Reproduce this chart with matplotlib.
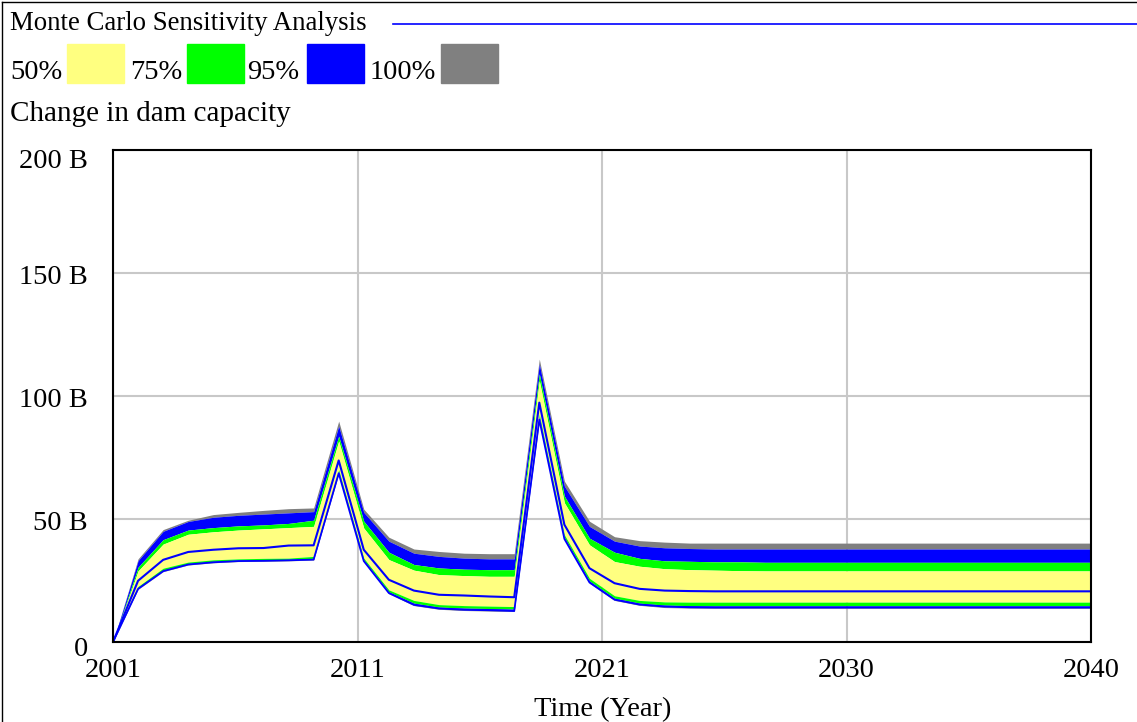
import matplotlib
matplotlib.use("Agg")
import matplotlib.pyplot as plt
import numpy as np

years = list(range(2001, 2041))

# Band boundaries (billions)
g_hi = [0, 33.8, 45.7, 49.5, 51.8, 52.7, 53.5, 54.2, 54.5, 89.8, 54.0, 42.6, 37.8, 36.8, 36.1, 35.9, 35.9,
        115.0, 65.4, 49.1, 42.8, 41.2, 40.6, 40.2] + [40.2] * 16
b_hi = [0, 33.1, 45.0, 49.0, 50.7, 51.5, 52.0, 52.5, 53.0, 87.8, 52.7, 41.0, 36.1, 34.8, 34.1, 33.8, 33.8,
        113.0, 63.4, 47.0, 41.0, 39.0, 38.3, 38.0] + [37.8] * 16
gr_hi = [0, 30.4, 41.6, 45.5, 46.5, 47.2, 47.6, 48.2, 49.5, 83.7, 49.1, 36.5, 31.5, 30.1, 29.6, 29.4, 29.4,
         109.0, 59.3, 42.2, 36.5, 34.0, 33.0, 32.8, 32.6, 32.6, 32.4] + [32.4] * 13
y_hi = [0, 28.9, 39.8, 43.8, 44.8, 45.5, 46.0, 46.5, 47.0, 81.7, 46.3, 33.5, 29.2, 27.4, 27.0, 26.7, 26.7,
        106.2, 56.6, 39.5, 32.7, 30.8, 29.8, 29.4, 29.2, 29.0] + [28.9] * 14
base = [0, 24.9, 33.4, 36.6, 37.5, 38.1, 38.2, 39.2, 39.3, 73.8, 37.5, 25.3, 20.9, 19.2, 18.9, 18.5, 18.2,
        97.3, 47.7, 30.0, 23.9, 21.6, 20.9, 20.7] + [20.6] * 16
y_lo = [0, 22.6, 30.0, 32.5, 33.4, 33.8, 34.0, 34.1, 34.8, 70.1, 34.1, 21.2, 16.9, 15.2, 14.8, 14.6, 14.4,
        92.6, 43.6, 25.9, 18.8, 16.9, 16.3] + [16.2] * 17
gr_lo = [0, 22.0, 29.3, 31.9, 32.8, 33.3, 33.4, 33.6, 34.0, 69.3, 33.4, 20.4, 15.8, 14.2, 13.8, 13.6, 13.4,
         91.4, 42.6, 24.8, 17.8, 15.8, 15.0, 14.8] + [14.7] * 16
b_lo = [0, 21.6, 28.8, 31.5, 32.4, 32.9, 33.0, 33.2, 33.5, 68.6, 32.9, 19.9, 15.1, 13.6, 13.1, 12.9, 12.6,
        90.4, 41.9, 24.2, 17.2, 15.2, 14.4, 14.1] + [14.0] * 16
g_lo = [0, 21.4, 28.6, 31.3, 32.2, 32.7, 32.8, 33.0, 33.3, 68.2, 32.6, 19.6, 14.8, 13.3, 12.8, 12.6, 12.4,
        89.8, 41.6, 23.9, 16.9, 14.9, 14.0, 13.8] + [13.7] * 16

x_ticks = [2001, 2010.75, 2020.5, 2030.25, 2040]
x_labels = ["2001", "2011", "2021", "2030", "2040"]
y_ticks = [0, 50, 100, 150, 200]
y_labels = ["0", "50 B", "100 B", "150 B", "200 B"]
legend_labels = ["50%", "75%", "95%", "100%"]

YELLOW = "#FFFF80"
GREEN = "#00FF00"
BLUE = "#0000FF"
GRAY = "#808080"
band_colors = [YELLOW, GREEN, BLUE, GRAY]

plt.rcParams['font.family'] = ['Liberation Serif', 'DejaVu Serif']
FS = 20.5

W, H = 1137, 722
PT = 0.72  # points per pixel at 100 dpi
fig = plt.figure(figsize=(W / 100, H / 100), dpi=100)
ax = fig.add_axes([113 / W, 80 / H, (1091 - 113) / W, (642 - 150) / H])

x = np.array(years)
ax.fill_between(x, b_hi, g_hi, color=GRAY, lw=0, zorder=2)
ax.fill_between(x, gr_hi, b_hi, color=BLUE, lw=0, zorder=2)
ax.fill_between(x, y_hi, gr_hi, color=GREEN, lw=0, zorder=2)
ax.fill_between(x, y_lo, y_hi, color=YELLOW, lw=0, zorder=2)
ax.fill_between(x, gr_lo, y_lo, color=GREEN, lw=0, zorder=2)
ax.fill_between(x, b_lo, gr_lo, color=BLUE, lw=0, zorder=2)
ax.fill_between(x, g_lo, b_lo, color=GRAY, lw=0, zorder=2)
ax.plot(x, base, color=BLUE, lw=1.5, zorder=3)
ax.plot(x, b_lo, color=BLUE, lw=1.3, zorder=3)

ax.set_xlim(2001, 2040)
ax.set_ylim(0, 200)
ax.set_xticks(x_ticks)
ax.set_yticks(y_ticks)
ax.set_xticklabels([])
ax.set_yticklabels([])
ax.tick_params(length=0)
ax.grid(True, color="#C8C8C8", lw=1.5, zorder=1)
ax.set_axisbelow(True)
for s in ax.spines.values():
    s.set_linewidth(1.5)
    s.set_zorder(4)

# Tick labels placed like the reference (pixel offsets)
for xt, lab in zip(x_ticks, x_labels):
    ax.annotate(lab, xy=(xt, 0), xycoords=("data", "data"), xytext=(0, -35 * PT),
                textcoords="offset points", ha="center", va="baseline", fontsize=FS,
                annotation_clip=False)
y_offsets = [-14, -11, -11, -11, -18]
for yt, lab, off in zip(y_ticks, y_labels, y_offsets):
    ax.annotate(lab, xy=(0, yt), xycoords=("axes fraction", "data"), xytext=(-25 * PT, off * PT),
                textcoords="offset points", ha="right", va="baseline", fontsize=FS,
                annotation_clip=False)
fig.text(603 / W, 1 - 716 / H, "Time (Year)", fontsize=FS, ha="center", va="baseline")

# Header texts
fig.text(10 / W, 1 - 30 / H, "Monte Carlo Sensitivity Analysis", fontsize=19.3, va="baseline", ha="left")
fig.add_artist(plt.Line2D([393 / W, 1], [1 - 24 / H, 1 - 24 / H], color=BLUE, lw=1.2))
label_x = [10, 130, 247, 370]
box_x = [67, 187, 307, 441]
for lx, bx, lab, c in zip(label_x, box_x, legend_labels, band_colors):
    fig.text(lx / W, 1 - 79 / H, lab, fontsize=FS, va="baseline", ha="left")
    fig.add_artist(plt.Rectangle((bx / W, 1 - 83 / H), 57 / W, 39 / H, color=c, transform=fig.transFigure))
fig.text(10 / W, 1 - 121 / H, "Change in dam capacity", fontsize=21, va="baseline", ha="left")

# Outer border
fig.add_artist(plt.Line2D([2 / W, 2 / W], [0, 1 - 2 / H], color="black", lw=1))
fig.add_artist(plt.Line2D([2 / W, 1], [1 - 2 / H, 1 - 2 / H], color="black", lw=1))

fig.savefig("out.png", dpi=100)
